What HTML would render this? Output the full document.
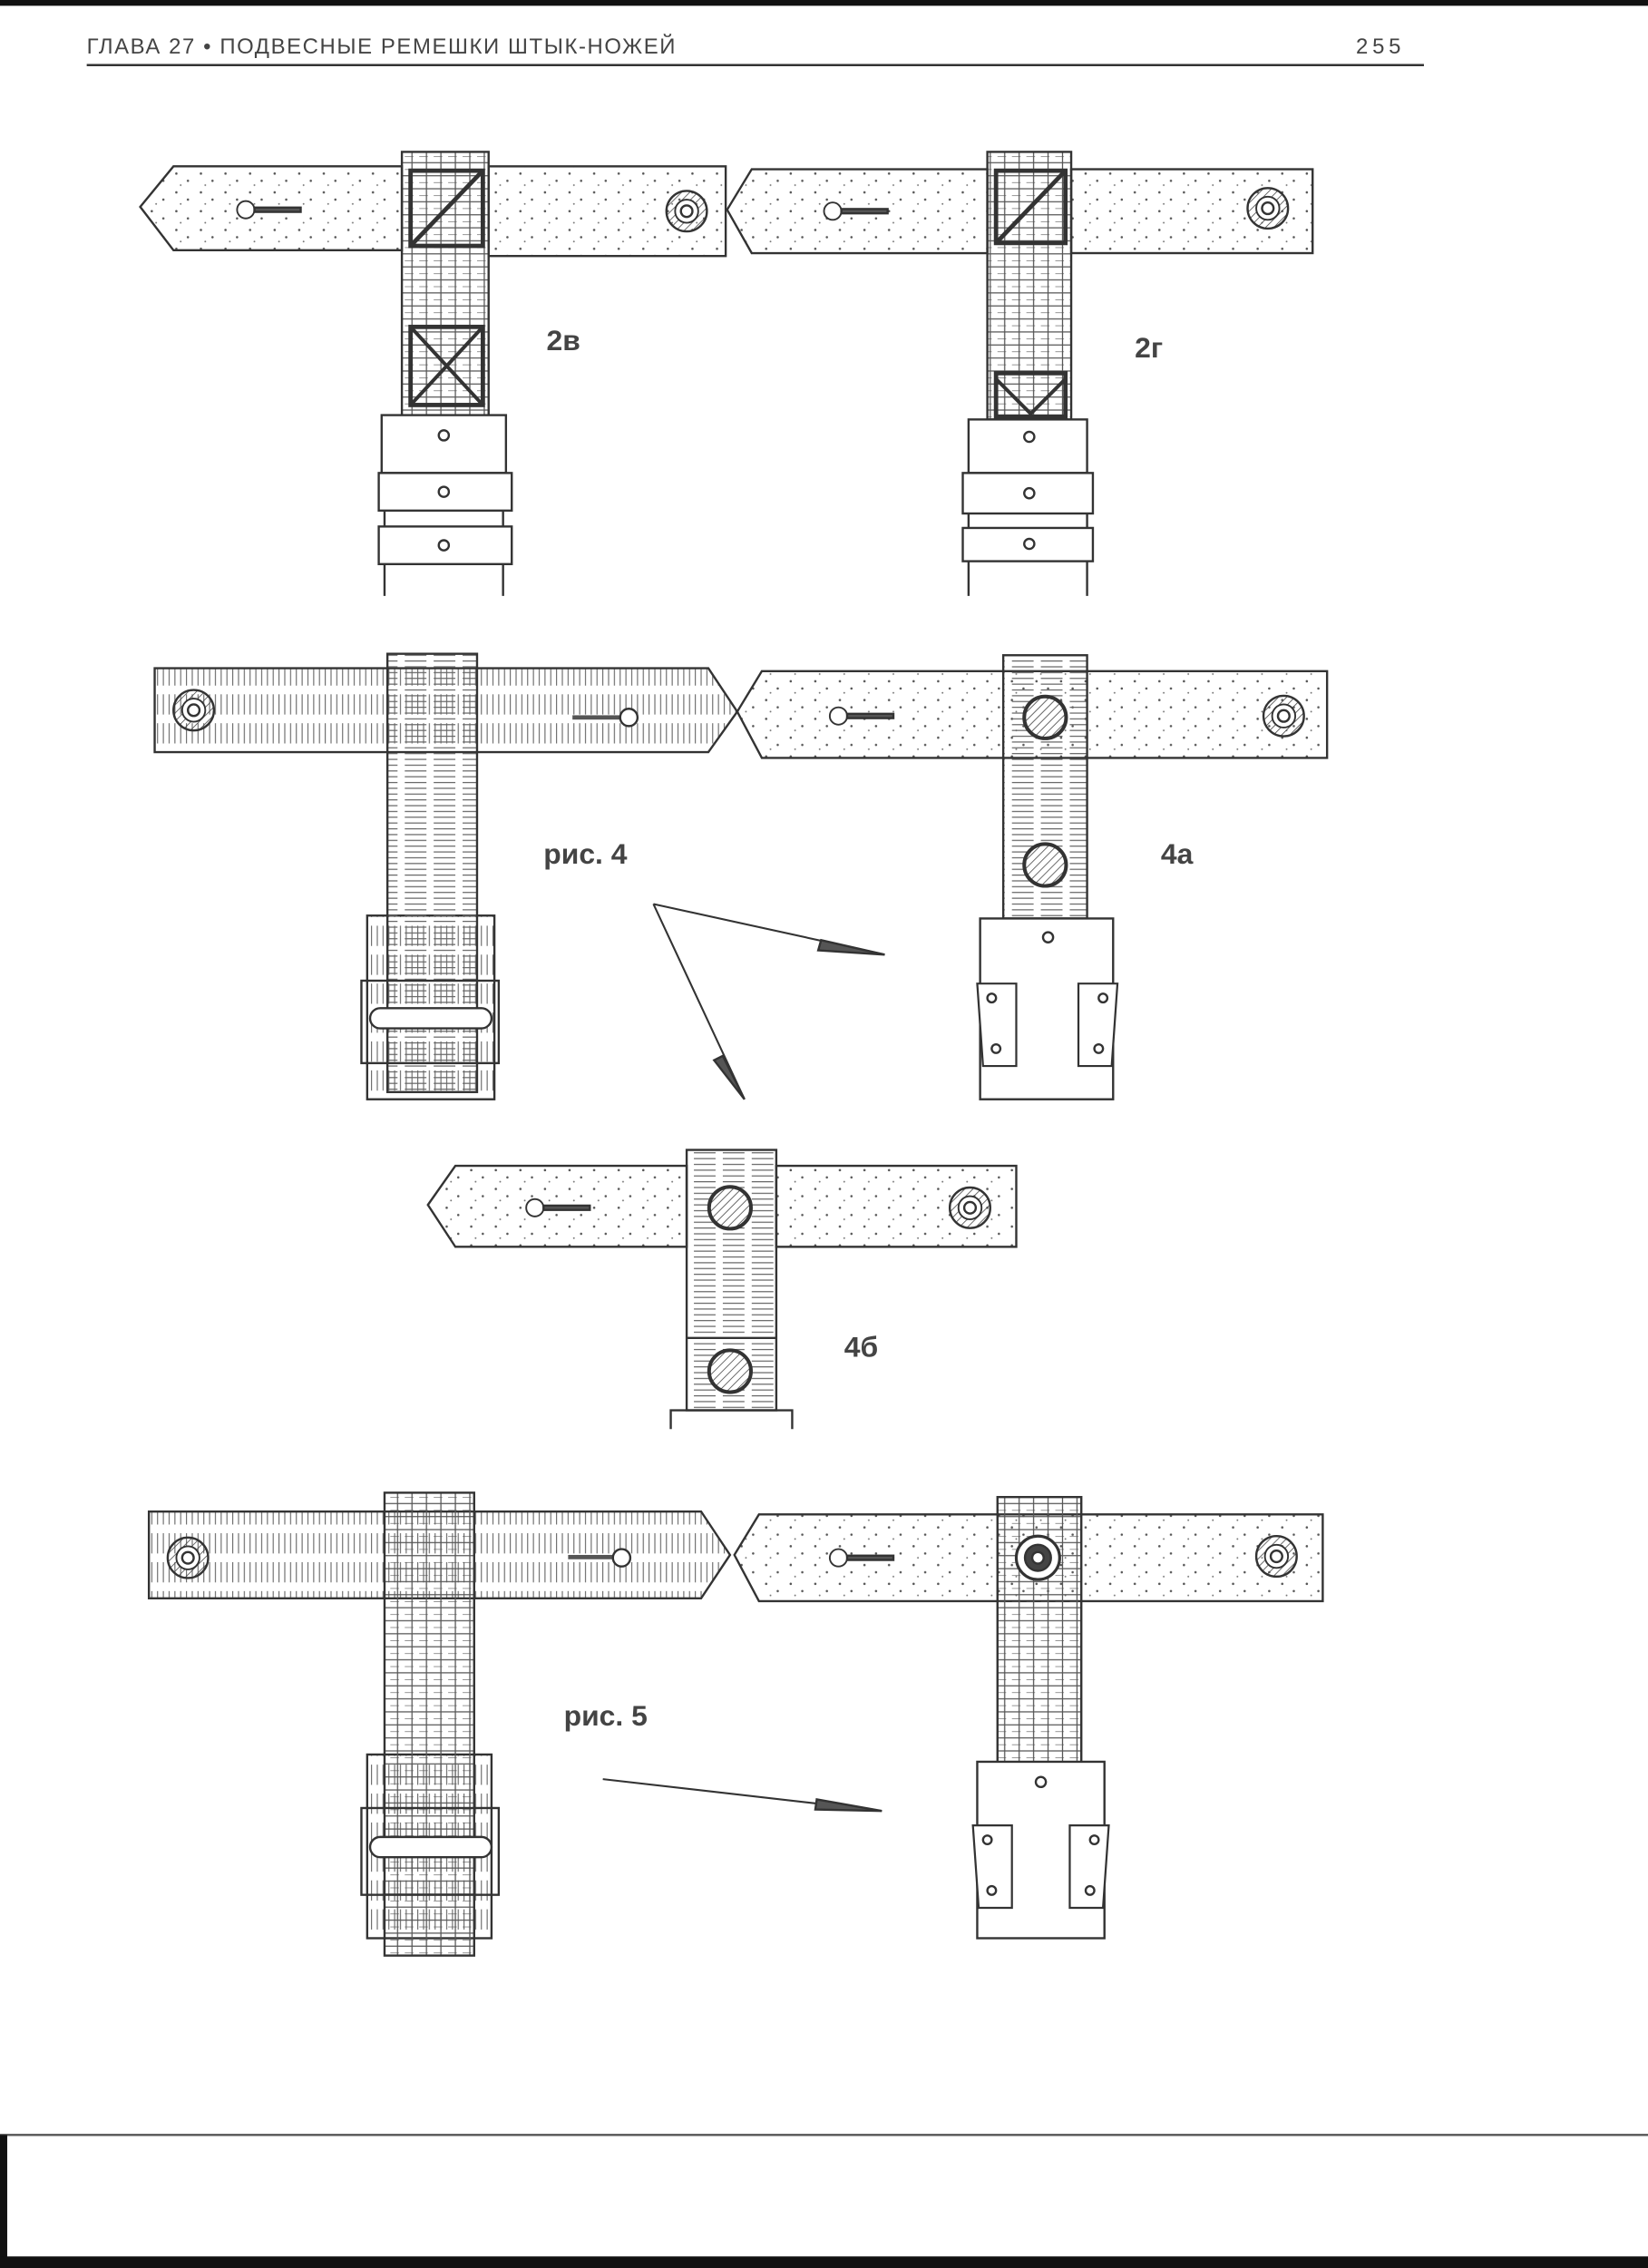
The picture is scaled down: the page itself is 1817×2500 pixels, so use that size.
<!DOCTYPE html>
<html><head><meta charset="utf-8"><style>
html,body{margin:0;padding:0;background:#fff;width:1817px;height:2500px;overflow:hidden}
svg{display:block}
text{font-family:"Liberation Sans","DejaVu Sans",sans-serif}
</style></head><body>
<svg width="1817" height="2500" viewBox="0 0 1140 1568" preserveAspectRatio="none" xmlns="http://www.w3.org/2000/svg">
<defs>
<pattern id="dots" width="17" height="13" patternUnits="userSpaceOnUse">
<circle cx="3" cy="3" r="0.8" fill="#555"/><circle cx="11" cy="8" r="0.8" fill="#555"/><circle cx="6" cy="11" r="0.6" fill="#777"/></pattern>
<pattern id="grid" width="10" height="9" patternUnits="userSpaceOnUse">
<path d="M0 4.5H10M5 0V9M0 0H6" stroke="#555" stroke-width="0.8" fill="none"/></pattern>
<pattern id="vl" width="4" height="20" patternUnits="userSpaceOnUse">
<path d="M1 0V14" stroke="#666" stroke-width="0.7"/></pattern>
<pattern id="hl" width="20" height="4" patternUnits="userSpaceOnUse">
<path d="M0 1H15" stroke="#666" stroke-width="0.7"/></pattern>
<pattern id="hatch" width="4" height="4" patternUnits="userSpaceOnUse" patternTransform="rotate(45)">
<path d="M0 0V4" stroke="#444" stroke-width="1"/></pattern>
<g id="rivet"><circle r="14" fill="url(#hatch)" stroke="#333" stroke-width="1.5"/><circle r="8" fill="#fff" stroke="#333" stroke-width="1.2"/><circle r="4" fill="none" stroke="#333"/></g>
<g id="hrivet"><circle r="15" fill="#fff" stroke="#333" stroke-width="1.5"/><circle r="14" fill="url(#hatch)"/></g>
<g id="hole"><circle r="6" fill="#fff" stroke="#333" stroke-width="1.2"/><rect x="6" y="-1.5" width="32" height="3" fill="#555"/></g>
<g id="tabs"><path d="M0 0H27V57H4Z" fill="#fff" stroke="#333" stroke-width="1.4"/><circle cx="10" cy="10" r="3" fill="none" stroke="#333"/><circle cx="13" cy="45" r="3" fill="none" stroke="#333"/></g>
</defs>
<g stroke="#333" stroke-width="1.5">
<rect x="0" y="0" width="1140" height="4" fill="#111" stroke="none"/>
<text x="60" y="37" font-size="15" fill="#444" stroke="none" letter-spacing="1">ГЛАВА 27 • ПОДВЕСНЫЕ РЕМЕШКИ ШТЫК-НОЖЕЙ</text>
<text x="938" y="37" font-size="15" fill="#444" stroke="none" letter-spacing="3">255</text>
<line x1="60" y1="45" x2="985" y2="45" stroke-width="1.5"/>

<path d="M97 143L120 115H278V173H120Z" fill="url(#dots)"/>
<rect x="338" y="115" width="164" height="62" fill="url(#dots)"/>
<use href="#hole" x="170" y="145"/><use href="#rivet" x="475" y="146"/>
<rect x="278" y="105" width="60" height="183" fill="url(#grid)"/>
<rect x="284" y="118" width="50" height="52" fill="none" stroke-width="3"/><line x1="284" y1="170" x2="334" y2="118" stroke-width="3"/>
<rect x="284" y="226" width="50" height="54" fill="none" stroke-width="3"/><path d="M284 226L334 280M334 226L284 280" stroke-width="2.5"/>
<rect x="264" y="287" width="86" height="40" fill="#fff"/>
<path d="M266 353V412M348 353V412" fill="none"/>
<rect x="262" y="327" width="92" height="26" fill="#fff"/><rect x="262" y="364" width="92" height="26" fill="#fff"/>
<circle cx="307" cy="301" r="3.5" fill="none"/><circle cx="307" cy="340" r="3.5" fill="none"/><circle cx="307" cy="377" r="3.5" fill="none"/>
<text x="378" y="242" font-size="20" font-weight="bold" fill="#444" stroke="none">2в</text>

<path d="M503 145L520 117H683V175H520Z" fill="url(#dots)"/>
<rect x="741" y="117" width="167" height="58" fill="url(#dots)"/>
<use href="#hole" x="576" y="146"/><use href="#rivet" x="877" y="144"/>
<rect x="683" y="105" width="58" height="185" fill="url(#grid)"/>
<rect x="689" y="118" width="48" height="50" fill="none" stroke-width="3"/><line x1="689" y1="168" x2="737" y2="118" stroke-width="3"/>
<rect x="689" y="258" width="48" height="30" fill="none" stroke-width="3"/><path d="M689 262L713 286L737 262" stroke-width="2.5" fill="none"/>
<rect x="670" y="290" width="82" height="37" fill="#fff"/>
<path d="M670 355V412M752 355V412" fill="none"/>
<rect x="666" y="327" width="90" height="28" fill="#fff"/><rect x="666" y="365" width="90" height="23" fill="#fff"/>
<circle cx="712" cy="302" r="3.5" fill="none"/><circle cx="712" cy="341" r="3.5" fill="none"/><circle cx="712" cy="376" r="3.5" fill="none"/>
<text x="785" y="247" font-size="20" font-weight="bold" fill="#444" stroke="none">2г</text>

<path d="M107 462H490L510 492L490 520H107Z" fill="url(#vl)"/>
<use href="#rivet" x="134" y="491"/>
<rect x="396" y="494.5" width="36" height="3" fill="#555" stroke="none"/><circle cx="435" cy="496" r="6" fill="#fff"/>
<rect x="254" y="633" width="88" height="127" fill="url(#vl)"/>
<rect x="268" y="452" width="62" height="303" fill="url(#hl)"/>
<rect x="250" y="678" width="95" height="57" fill="none"/>
<rect x="256" y="697" width="84" height="14" rx="7" fill="#fff"/>
<text x="376" y="597" font-size="20" font-weight="bold" fill="#444" stroke="none">рис. 4</text>

<path d="M510 492L527 464H918V524H527Z" fill="url(#dots)"/>
<use href="#hole" x="580" y="495"/><use href="#rivet" x="888" y="495"/>
<rect x="694" y="453" width="58" height="182" fill="url(#hl)"/>
<use href="#hrivet" x="723" y="496"/><use href="#hrivet" x="723" y="598"/>
<rect x="678" y="635" width="92" height="125" fill="#fff"/>
<circle cx="725" cy="648" r="3.5" fill="none"/>
<use href="#tabs" x="676" y="680"/><use href="#tabs" x="773" y="680" transform="translate(1546 0) scale(-1 1)"/>
<text x="803" y="597" font-size="20" font-weight="bold" fill="#444" stroke="none">4а</text>
<path d="M452 625L612 660M452 625L515 760" stroke-width="1.3" fill="none"/>
<path d="M568 650L612 660L566 657Z" fill="#555"/>
<path d="M500 730L515 760L494 733Z" fill="#555"/>

<path d="M296 833L315 806H475V862H315Z" fill="url(#dots)"/>
<rect x="537" y="806" width="166" height="56" fill="url(#dots)"/>
<use href="#hole" x="370" y="835"/><use href="#rivet" x="671" y="835"/>
<rect x="475" y="795" width="62" height="180" fill="url(#hl)"/>
<line x1="475" y1="925" x2="537" y2="925"/>
<use href="#hrivet" x="505" y="835"/><use href="#hrivet" x="505" y="948"/>
<path d="M464 988V975H548V988" fill="none"/>
<text x="584" y="938" font-size="20" font-weight="bold" fill="#444" stroke="none">4б</text>

<path d="M103 1045H485L505 1075L485 1105H103Z" fill="url(#vl)"/>
<use href="#rivet" x="130" y="1077"/>
<rect x="393" y="1075" width="36" height="3" fill="#555" stroke="none"/><circle cx="430" cy="1077" r="6" fill="#fff"/>
<rect x="254" y="1213" width="86" height="127" fill="url(#vl)"/>
<rect x="266" y="1032" width="62" height="320" fill="url(#grid)"/>
<rect x="250" y="1250" width="95" height="60" fill="none"/>
<rect x="256" y="1270" width="84" height="14" rx="7" fill="#fff"/>
<text x="390" y="1193" font-size="20" font-weight="bold" fill="#444" stroke="none">рис. 5</text>
<path d="M417 1230L610 1252" stroke-width="1.3"/>
<path d="M565 1244L610 1252L564 1251Z" fill="#555"/>

<path d="M508 1075L525 1047H915V1107H525Z" fill="url(#dots)"/>
<use href="#hole" x="580" y="1077"/><use href="#rivet" x="883" y="1076"/>
<rect x="690" y="1035" width="58" height="185" fill="url(#grid)"/>
<circle cx="718" cy="1077" r="15" fill="#fff" stroke-width="2"/><circle cx="718" cy="1077" r="9" fill="#444"/><circle cx="718" cy="1077" r="4" fill="#fff"/>
<rect x="676" y="1218" width="88" height="122" fill="#fff"/>
<circle cx="720" cy="1232" r="3.5" fill="none"/>
<use href="#tabs" x="673" y="1262"/><use href="#tabs" x="767" y="1262" transform="translate(1534 0) scale(-1 1)"/>

<line x1="0" y1="1476" x2="1140" y2="1476" stroke="#555" stroke-width="1.5"/>
<rect x="0" y="1476" width="5" height="92" fill="#111" stroke="none"/>
<rect x="0" y="1560" width="1140" height="8" fill="#111" stroke="none"/>
</g>
</svg>
</body></html>
